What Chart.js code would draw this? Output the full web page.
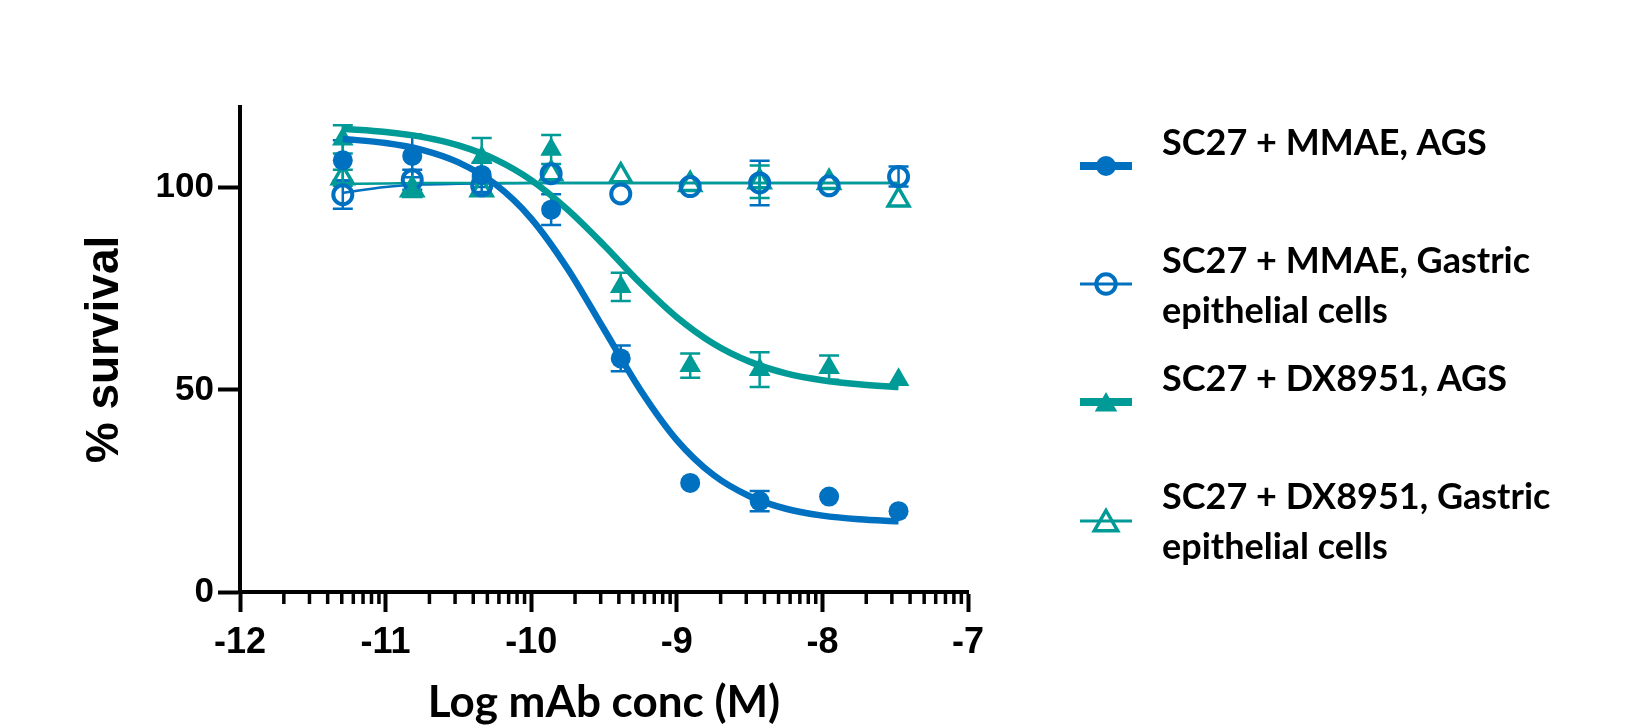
<!DOCTYPE html>
<html>
<head>
<meta charset="utf-8">
<script src="https://cdn.jsdelivr.net/npm/chart.js@4.4.1/dist/chart.umd.min.js"></script>
<style>
  html, body { margin: 0; padding: 0; background: #fff; }
</style>
</head>
<body>
<canvas id="chart" width="1630" height="727"></canvas>
<script>
// log of the 3-fold mAb dilutions (M)
const logConc = [-11.294, -10.817, -10.340, -9.863, -9.385, -8.908, -8.431, -7.954, -7.477];

const mmaeAgs = [106.8, 107.9, 103.2, 94.6, 57.8, 27.0, 22.5, 23.6, 20.0];
const mmaeAgsErr = [5.0, 5.3, 3.0, 3.8, 3.2, 0, 2.5, 0, 0];
const mmaeGastric = [98.3, 102.0, 100.5, 103.5, 98.5, 100.3, 101.2, 100.5, 102.8];
const mmaeGastricErr = [3.5, 2.5, 1.5, 0, 0, 0, 5.5, 0, 2.5];
const dxAgs = [112.0, 99.0, 107.5, 109.5, 75.5, 56.0, 55.0, 55.5, 52.5];
const dxAgsErr = [3.5, 0, 4.8, 3.6, 3.5, 3.0, 4.3, 3.0, 0];
const dxGastric = [102.5, 99.5, 99.5, 103.5, 103.0, 100.8, 101.5, 101.3, 97.0];
const dxGastricErr = [2.0, 0, 0, 0, 0, 0, 4.0, 0, 0];

// fitted curves
const fitX = [-11.294, -11.0, -10.75, -10.5, -10.25, -10.0, -9.75, -9.5, -9.25, -9.0, -8.75, -8.5, -8.25, -8.0, -7.75, -7.477];
const fitMmaeAgs = [112.1, 111.1, 109.4, 106.3, 101.0, 92.4, 80.0, 65.0, 50.0, 37.6, 29.0, 23.7, 20.6, 18.9, 18.0, 17.5];
const fitMmaeGastric = [98.8, 100.2, 100.8, 101.0, 101.1, 101.2, 101.2, 101.2, 101.2, 101.2, 101.2, 101.2, 101.2, 101.2, 101.2, 101.2];
const fitDxAgs = [114.6, 113.8, 112.6, 110.5, 107.1, 101.9, 94.6, 85.8, 76.4, 68.0, 61.5, 57.0, 54.1, 52.4, 51.4, 50.7];
const fitDxGastric = [101.0, 101.1, 101.2, 101.2, 101.2, 101.2, 101.2, 101.2, 101.2, 101.2, 101.2, 101.2, 101.2, 101.2, 101.2, 101.2];

const xTicks = [-12, -11, -10, -9, -8, -7];
const xMinorSteps = [2, 3, 4, 5, 6, 7, 8, 9];
const yTicks = [0, 50, 100];

const legendLabels = [
  ["SC27 + MMAE, AGS"],
  ["SC27 + MMAE, Gastric", "epithelial cells"],
  ["SC27 + DX8951, AGS"],
  ["SC27 + DX8951, Gastric", "epithelial cells"]
];

const BLUE = "#0070C0";
const TEAL = "#009B96";
const ARIAL = '"Liberation Sans", Arial, sans-serif';
const CALIBRI = 'Lato, "Open Sans", sans-serif';

function pts(xs, ys) {
  return xs.map((x, i) => ({ x: x, y: ys[i] }));
}

function curve(ys, color, width, order) {
  return {
    data: pts(fitX, ys), showLine: true, pointRadius: 0, borderColor: color,
    borderWidth: width, cubicInterpolationMode: "monotone", fill: false, order: order
  };
}

function markers(ys, errs, color, style, radius, open, order) {
  return {
    data: pts(logConc, ys), errors: errs, showLine: false, pointStyle: style,
    pointRadius: radius, pointHoverRadius: radius,
    pointBackgroundColor: open ? "rgba(0,0,0,0)" : color,
    pointBorderColor: color, pointBorderWidth: open ? (style === "circle" ? 4 : 3.5) : 0,
    borderColor: color, backgroundColor: color, order: order
  };
}

// error bars, drawn under the symbols
const errorBars = {
  id: "errorBars",
  beforeDatasetsDraw(chart) {
    const ctx = chart.ctx;
    const y = chart.scales.y;
    chart.data.datasets.forEach((ds, di) => {
      if (!ds.errors) return;
      const meta = chart.getDatasetMeta(di);
      ctx.save();
      ctx.strokeStyle = ds.borderColor;
      ctx.lineWidth = 2.5;
      meta.data.forEach((pt, i) => {
        const e = ds.errors[i];
        if (!e) return;
        const top = y.getPixelForValue(ds.data[i].y + e);
        const bot = y.getPixelForValue(ds.data[i].y - e);
        ctx.beginPath();
        ctx.moveTo(pt.x, top); ctx.lineTo(pt.x, bot);
        ctx.moveTo(pt.x - 10, top); ctx.lineTo(pt.x + 10, top);
        ctx.moveTo(pt.x - 10, bot); ctx.lineTo(pt.x + 10, bot);
        ctx.stroke();
      });
      ctx.restore();
    });
  }
};

// log minor ticks under the x axis
const minorTicks = {
  id: "minorTicks",
  afterDraw(chart) {
    const ctx = chart.ctx;
    const x = chart.scales.x;
    const base = chart.chartArea.bottom;
    ctx.save();
    ctx.strokeStyle = "#000";
    ctx.lineWidth = 3.5;
    for (let d = xTicks[0]; d < xTicks[xTicks.length - 1]; d++) {
      xMinorSteps.forEach(k => {
        const px = x.getPixelForValue(d + Math.log10(k));
        ctx.beginPath();
        ctx.moveTo(px, base); ctx.lineTo(px, base + 12);
        ctx.stroke();
      });
    }
    ctx.restore();
  }
};

function drawSymbol(ctx, style, cx, cy, r, open, bw, color) {
  ctx.beginPath();
  if (style === "circle") {
    ctx.arc(cx, cy, r, 0, Math.PI * 2);
  } else {
    ctx.moveTo(cx, cy - r);
    ctx.lineTo(cx + r * 0.866, cy + r * 0.5);
    ctx.lineTo(cx - r * 0.866, cy + r * 0.5);
    ctx.closePath();
  }
  if (open) {
    ctx.lineWidth = bw; ctx.strokeStyle = color; ctx.stroke();
  } else {
    ctx.fillStyle = color; ctx.fill();
  }
}

const legendBox = {
  id: "legendBox",
  afterDraw(chart) {
    const ctx = chart.ctx;
    const items = [
      { color: BLUE, line: 8, style: "circle", r: 10, open: false, sy: 166, ty: 155 },
      { color: BLUE, line: 3, style: "circle", r: 9.7, open: true, sy: 284, ty: 273 },
      { color: TEAL, line: 8, style: "triangle", r: 13, open: false, sy: 402, ty: 391, my: 405 },
      { color: TEAL, line: 3, style: "triangle", r: 13.5, open: true, sy: 521, ty: 509, my: 524 }
    ];
    ctx.save();
    items.forEach((it, i) => {
      ctx.strokeStyle = it.color;
      ctx.lineWidth = it.line;
      ctx.beginPath();
      ctx.moveTo(1080, it.sy); ctx.lineTo(1132, it.sy);
      ctx.stroke();
      drawSymbol(ctx, it.style, 1106, it.my || it.sy, it.r, it.open, it.style === "circle" ? 4 : 3.5, it.color);
      ctx.fillStyle = "#000";
      ctx.font = "bold 36px " + CALIBRI;
      ctx.textAlign = "left";
      ctx.textBaseline = "alphabetic";
      legendLabels[i].forEach((t, j) => ctx.fillText(t, 1162, it.ty + j * 50));
    });
    ctx.restore();
  }
};

new Chart(document.getElementById("chart"), {
  type: "scatter",
  data: {
    datasets: [
      markers(mmaeAgs, mmaeAgsErr, BLUE, "circle", 10, false, 1),
      curve(fitMmaeAgs, BLUE, 6.5, 2),
      markers(dxAgs, dxAgsErr, TEAL, "triangle", 12.5, false, 3),
      curve(fitDxAgs, TEAL, 6.5, 4),
      markers(mmaeGastric, mmaeGastricErr, BLUE, "circle", 9.5, true, 5),
      markers(dxGastric, dxGastricErr, TEAL, "triangle", 12, true, 6),
      curve(fitDxGastric, TEAL, 2.5, 7),
      curve(fitMmaeGastric, BLUE, 2.5, 8)
    ]
  },
  options: {
    responsive: false,
    animation: false,
    layout: { padding: { top: 107, right: 662, bottom: 0, left: 0 } },
    plugins: { legend: { display: false }, tooltip: { enabled: false } },
    scales: {
      x: {
        type: "linear", position: "bottom", min: -12, max: -7,
        afterFit: s => { s.height = 135; },
        afterBuildTicks: s => { s.ticks = xTicks.map(v => ({ value: v })); },
        grid: { drawOnChartArea: false, drawTicks: true, tickLength: 20, tickWidth: 4, tickColor: "#000" },
        border: { display: true, color: "#000", width: 4 },
        ticks: {
          color: "#000", padding: 9, maxRotation: 0, autoSkip: false,
          font: { family: ARIAL, weight: "bold", size: 36 },
          callback: v => String(v)
        },
        title: {
          display: true, text: "Log mAb conc (M)", color: "#000",
          font: { family: CALIBRI, weight: "bold", size: 44 },
          padding: { top: 0, bottom: -2.6 }
        }
      },
      y: {
        type: "linear", min: 0, max: 120,
        afterFit: s => { s.width = 240; },
        afterBuildTicks: s => { s.ticks = yTicks.map(v => ({ value: v })); },
        grid: { drawOnChartArea: false, drawTicks: true, tickLength: 22, tickWidth: 4, tickColor: "#000" },
        border: { display: true, color: "#000", width: 4 },
        ticks: {
          color: "#000", padding: 4,
          font: { family: ARIAL, weight: "bold", size: 35 },
          callback: v => String(v)
        },
        title: {
          display: true, text: "% survival", color: "#000",
          font: { family: ARIAL, weight: "bold", size: 46 },
          padding: { top: 78, bottom: 0 }
        }
      }
    }
  },
  plugins: [errorBars, minorTicks, legendBox]
});
</script>
</body>
</html>
